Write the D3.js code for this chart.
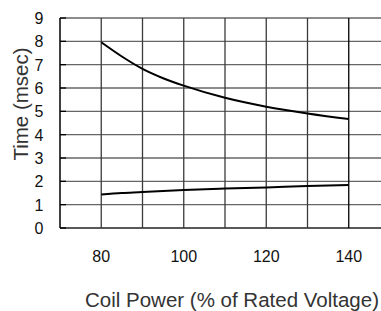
<!DOCTYPE html>
<html>
<head>
<meta charset="utf-8">
<script src="https://cdn.jsdelivr.net/npm/d3@7.9.0/dist/d3.min.js"></script>
<style>
  body { margin: 0; background: #fff; }
  svg { display: block; font-family: "Liberation Sans", Arial, sans-serif; }
</style>
</head>
<body>
<svg id="chart" width="381" height="311"></svg>
<script>
// coil power (% of rated voltage)
const power = [80, 85, 90, 95, 100, 110, 120, 130, 140];
// operate time (upper curve) and release time (lower curve), msec
const operateTime = [7.96, 7.35, 6.82, 6.42, 6.1, 5.58, 5.2, 4.91, 4.67];
const releaseTime = [1.44, 1.5, 1.54, 1.59, 1.63, 1.69, 1.74, 1.8, 1.84];

const xTicks = [80, 100, 120, 140];
const xGrid = [80, 90, 100, 110, 120, 130, 140];
const yTicks = [0, 1, 2, 3, 4, 5, 6, 7, 8, 9];

const svg = d3.select('#chart');

const x = d3.scaleLinear().domain([70, 150]).range([60, 390]);
const y = d3.scaleLinear().domain([0, 9]).range([228, 18]);

// grid
svg.append('g')
  .selectAll('line')
  .data(yTicks)
  .join('line')
  .attr('x1', x(70)).attr('x2', 381)
  .attr('y1', d => y(d)).attr('y2', d => y(d))
  .attr('stroke', d => d === 0 ? '#222' : '#666')
  .attr('stroke-width', 1.3);

svg.append('g')
  .selectAll('line')
  .data(xGrid)
  .join('line')
  .attr('x1', d => x(d)).attr('x2', d => x(d))
  .attr('y1', y(9)).attr('y2', y(0))
  .attr('stroke', d => d === 140 ? '#000' : '#3a3a3a')
  .attr('stroke-width', 1.3);

// left axis with small ticks
svg.append('line')
  .attr('x1', x(70)).attr('x2', x(70))
  .attr('y1', y(9)).attr('y2', y(0))
  .attr('stroke', '#000').attr('stroke-width', 1.5);

svg.append('g')
  .selectAll('line')
  .data(yTicks)
  .join('line')
  .attr('x1', x(70)).attr('x2', x(70) + 6)
  .attr('y1', d => y(d)).attr('y2', d => y(d))
  .attr('stroke', '#000').attr('stroke-width', 1.3);

// tick labels
svg.append('g')
  .selectAll('text')
  .data(yTicks)
  .join('text')
  .attr('x', 39)
  .attr('y', d => y(d) + 6)
  .attr('text-anchor', 'middle')
  .attr('font-size', 16)
  .attr('fill', '#111')
  .text(d => d);

svg.append('g')
  .selectAll('text')
  .data(xTicks)
  .join('text')
  .attr('x', d => x(d))
  .attr('y', 262)
  .attr('text-anchor', 'middle')
  .attr('font-size', 16)
  .attr('fill', '#111')
  .text(d => d);

// curves
const line = d3.line()
  .x(d => x(d[0]))
  .y(d => y(d[1]))
  .curve(d3.curveMonotoneX);

[operateTime, releaseTime].forEach(series => {
  svg.append('path')
    .datum(power.map((p, i) => [p, series[i]]))
    .attr('d', line)
    .attr('fill', 'none')
    .attr('stroke', '#000')
    .attr('stroke-width', 2);
});

// axis titles
svg.append('text')
  .attr('x', 232)
  .attr('y', 307)
  .attr('text-anchor', 'middle')
  .attr('font-size', 20.5)
  .attr('fill', '#333')
  .text('Coil Power (% of Rated Voltage)');

svg.append('text')
  .attr('transform', 'translate(28,104) rotate(-90)')
  .attr('text-anchor', 'middle')
  .attr('font-size', 20.5)
  .attr('fill', '#333')
  .text('Time (msec)');
</script>
</body>
</html>
